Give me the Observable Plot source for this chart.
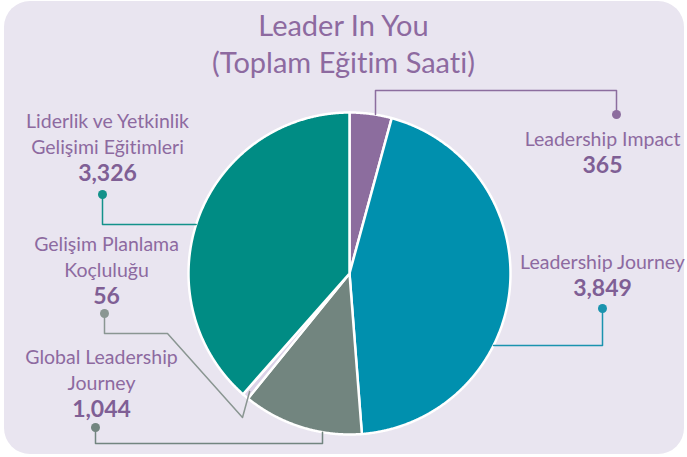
<!DOCTYPE html>
<html>
<head>
<meta charset="utf-8">
<script src="https://cdn.jsdelivr.net/npm/d3@7"></script>
<script src="https://cdn.jsdelivr.net/npm/@observablehq/plot@0.6"></script>
<style>
  html, body { margin: 0; padding: 0; background: #ffffff; }
  #wrap { position: relative; width: 687px; height: 457px; overflow: hidden; font-family: Lato, "Open Sans", sans-serif; font-variant-ligatures: none; }
  #card { position: absolute; left: 4px; top: 1px; width: 680px; height: 453px; border-radius: 26px; background: #e9e5f0; }
  #title { position: absolute; left: 0; top: 6px; width: 687px; text-align: center; color: #8d6aa0; font-size: 29px; line-height: 37px; font-weight: 400; font-variant-ligatures: none; }
  #chart { position: absolute; left: 0; top: 0; }
  #chart text { font-variant-ligatures: none; }
</style>
</head>
<body>
<div id="wrap">
  <div id="card"></div>
  <div id="title">Leader In You<br>(Toplam Eğitim Saati)</div>
  <div id="chart"></div>
</div>
<script>
// ---- data ----
const categories = ["Leadership Impact", "Leadership Journey", "Global Leadership Journey", "Gelişim Planlama Koçluluğu", "Liderlik ve Yetkinlik Gelişimi Eğitimleri"];
const values = [365, 3849, 1044, 56, 3326];
const labelLines = [["Leadership Impact"], ["Leadership Journey"], ["Global Leadership", "Journey"], ["Gelişim Planlama", "Koçluluğu"], ["Liderlik ve Yetkinlik", "Gelişimi Eğitimleri"]];
const colors = ["#8c6d9e", "#0090ae", "#72857f", "#dcd2e8", "#008c84"];
const lineColors = ["#8c6d9e", "#1a93ae", "#72857f", "#8a9692", "#13928a"];

// ---- layout (pixels) ----
const W = 687, H = 457;
const cx = 349, cy = 273, R = 161;
const fmt = d3.format(",");
const layout = [
  {lx: 602, base: 145, dot: [616, 114], route: [[616, 90]], end: {type: "x", v: 375, side: -1}},
  {lx: 602, base: 268, dot: [602, 308], route: [[602, 345]], end: {type: "y", v: 345, side: 1}},
  {lx: 101, base: 363, dot: [95, 427], route: [[95, 443]], end: {type: "x", v: 322, side: 1}},
  {lx: 106, base: 250, dot: [104, 313], route: [[104, 333], [167, 333], [242, 417]], end: {type: "mid", v: 0.96}},
  {lx: 107, base: 127, dot: [102, 194], route: [[102, 224]], end: {type: "y", v: 224, side: -1}}
];
const lineGap = 26, numGap = 27;

// ---- pie geometry ----
const arcs = d3.pie().sort(null).value(d => d)(values);
const slicePts = arcs.map((a, i) => {
  const pts = [{x: cx, y: cy}];
  const n = Math.max(4, Math.ceil((a.endAngle - a.startAngle) / 0.005));
  for (let k = 0; k <= n; k++) {
    const t = a.startAngle + (a.endAngle - a.startAngle) * k / n;
    pts.push({x: cx + R * Math.sin(t), y: cy - R * Math.cos(t)});
  }
  return pts;
});

// leader lines
const leaders = layout.map((L, i) => {
  const pts = [L.dot, ...L.route];
  const last = pts[pts.length - 1];
  let end;
  if (L.end.type === "x") {
    const dx = L.end.v - cx;
    end = [L.end.v, cy + L.end.side * Math.sqrt(R * R - dx * dx)];
    pts.push([L.end.v, last[1]]);
  } else if (L.end.type === "y") {
    const dy = L.end.v - cy;
    end = [cx + L.end.side * Math.sqrt(R * R - dy * dy), L.end.v];
  } else {
    const a = arcs[i];
    const m = (a.startAngle + a.endAngle) / 2;
    end = [cx + L.end.v * R * Math.sin(m), cy - L.end.v * R * Math.cos(m)];
  }
  pts.push(end);
  return pts.map(p => ({x: p[0], y: p[1]}));
});

// texts
const texts = [];
layout.forEach((L, i) => {
  labelLines[i].forEach((t, j) => texts.push({x: L.lx, y: L.base + j * lineGap, text: t, bold: false}));
  texts.push({x: L.lx, y: L.base + (labelLines[i].length - 1) * lineGap + numGap, text: fmt(values[i]), bold: true});
});

const marks = [];
slicePts.forEach((pts, i) => {
  marks.push(Plot.line(pts, {x: "x", y: "y", fill: colors[i], stroke: "#ffffff", strokeWidth: 2.5, strokeLinejoin: "round", curve: "linear-closed"}));
});
leaders.forEach((pts, i) => {
  marks.push(Plot.line(pts, {x: "x", y: "y", stroke: lineColors[i], strokeWidth: 1.5, curve: "linear"}));
});
marks.push(Plot.dot(layout.map((L, i) => ({x: L.dot[0], y: L.dot[1], c: lineColors[i]})), {x: "x", y: "y", r: 4.5, fill: d => d.c, stroke: "none"}));
marks.push(Plot.text(texts.filter(d => !d.bold), {x: "x", y: d => d.y - 6, text: "text", fill: "#8d6aa0", fontSize: 19.5, fontFamily: "Lato", textAnchor: "middle"}));
marks.push(Plot.text(texts.filter(d => d.bold), {x: "x", y: d => d.y - 7, text: "text", fill: "#7f5f95", fontSize: 23, fontWeight: "bold", fontFamily: "Lato", textAnchor: "middle"}));

const chart = Plot.plot({
  width: W, height: H, margin: 0,
  x: {domain: [0, W], range: [0, W], axis: null},
  y: {domain: [0, H], range: [0, H], axis: null},
  color: {type: "identity"},
  style: {background: "transparent", overflow: "visible"},
  marks
});
document.getElementById("chart").appendChild(chart);
</script>
</body>
</html>
